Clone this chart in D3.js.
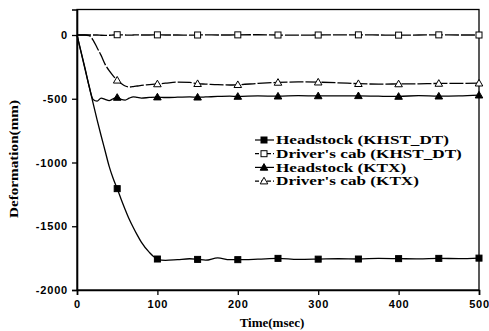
<!DOCTYPE html>
<html><head><meta charset="utf-8">
<script src="https://cdn.jsdelivr.net/npm/d3@7/dist/d3.min.js"></script>
<style>body{margin:0;background:#fff}svg{display:block}</style>
</head><body>
<svg id="c" width="489" height="331"></svg>
<script>
const time = [0,5,10,15,20,25,30,35,40,45,50,55,60,65,70,75,80,90,100,110,125,140,150,160,175,190,200,225,250,275,300,325,350,375,400,425,450,475,500];
const headstockKHST = [0,-135,-270,-400,-535,-665,-790,-910,-1030,-1125,-1205,-1290,-1370,-1445,-1510,-1570,-1625,-1705,-1757,-1768,-1762,-1755,-1760,-1766,-1748,-1762,-1762,-1758,-1752,-1760,-1758,-1755,-1757,-1752,-1754,-1756,-1752,-1754,-1750];
const cabKHST = [0,0,0,0,0,0,-2,-3,-2,0,2,1,0,-1,0,1,0,0,1,0,0,-1,0,1,0,0,1,2,0,-1,0,1,1,0,-1,0,1,0,0];
const headstockKTX = [0,-130,-260,-400,-505,-518,-495,-505,-515,-500,-490,-505,-510,-495,-485,-490,-495,-490,-487,-490,-488,-485,-488,-486,-482,-480,-482,-478,-480,-476,-478,-478,-477,-480,-482,-475,-480,-478,-472];
const cabKTX = [0,0,0,-5,-40,-100,-160,-230,-280,-320,-355,-380,-400,-408,-405,-400,-395,-390,-384,-378,-370,-372,-382,-385,-390,-392,-390,-380,-372,-368,-370,-375,-382,-385,-384,-383,-380,-380,-378];
const xTicks = [0,100,200,300,400,500];
const yTicks = [0,-500,-1000,-1500,-2000];
const seriesNames = ["Headstock (KHST_DT)","Driver's cab (KHST_DT)","Headstock (KTX)","Driver's cab (KTX)"];
const markerStep = 50;

const series = [
  {name:seriesNames[0], values:headstockKHST, shape:"square", fill:true, dash:null},
  {name:seriesNames[1], values:cabKHST, shape:"square", fill:false, dash:"4,2"},
  {name:seriesNames[2], values:headstockKTX, shape:"triangle", fill:true, dash:null},
  {name:seriesNames[3], values:cabKTX, shape:"triangle", fill:false, dash:"4,2"}
];

const svg = d3.select("#c");
const x = d3.scaleLinear().domain([0,500]).range([77,479]);
const y = d3.scaleLinear().domain([-2000,200]).range([290,9.5]);

svg.append("rect").attr("x",x(0)).attr("y",y(200)).attr("width",x(500)-x(0)).attr("height",y(-2000)-y(200))
  .attr("fill","none").attr("stroke","#000").attr("stroke-width",1.3);

const tickFont = "'Liberation Sans', Arial, sans-serif";
const gx = svg.append("g").attr("transform",`translate(0,${y(-2000)})`)
  .call(d3.axisBottom(x).tickValues(xTicks).tickSize(5).tickPadding(5).tickFormat(d3.format("d")));
const gy = svg.append("g").attr("transform",`translate(${x(0)},0)`)
  .call(d3.axisLeft(y).tickValues(yTicks).tickSize(5).tickPadding(4).tickFormat(d3.format("d")));
[gx,gy].forEach(g=>{
  g.select(".domain").attr("stroke-width",1.6);
  g.selectAll(".tick line").attr("stroke-width",1.3);
  g.selectAll("text").attr("font-family",tickFont).attr("font-weight","bold").attr("font-size",11)
    .attr("letter-spacing","0.8px").attr("fill","#000");
});
gy.selectAll("text").text(d=>d===0?"0":"-"+Math.abs(d));

function marker(g, shape, fill, cx, cy){
  if(shape==="square"){
    g.append("rect").attr("x",cx-3).attr("y",cy-3).attr("width",6).attr("height",6)
      .attr("fill",fill?"#000":"#fff").attr("stroke","#000").attr("stroke-width",1);
  } else {
    g.append("path").attr("d",`M${cx},${cy-3.8}L${cx+3.8},${cy+2.8}L${cx-3.8},${cy+2.8}Z`)
      .attr("fill",fill?"#000":"#fff").attr("stroke","#000").attr("stroke-width",1);
  }
}

const line = d3.line().x((d,i)=>x(time[i])).y(d=>y(d)).curve(d3.curveMonotoneX);
series.forEach(s=>{
  svg.append("path").attr("d",line(s.values)).attr("fill","none").attr("stroke","#000")
    .attr("stroke-width",1.3).attr("stroke-dasharray",s.dash?"14,2":null);
});
series.forEach(s=>{
  const g = svg.append("g");
  time.forEach((t,i)=>{ if(t>0 && t%markerStep===0) marker(g,s.shape,s.fill,x(t),y(s.values[i])); });
});

const serif = "'Liberation Serif','Times New Roman',serif";
const lg = svg.append("g");
series.forEach((s,i)=>{
  const ly = 140 + i*13.7;
  lg.append("line").attr("x1",255).attr("x2",274).attr("y1",ly).attr("y2",ly)
    .attr("stroke","#000").attr("stroke-width",1.2).attr("stroke-dasharray",s.dash);
  marker(lg,s.shape,s.fill,264,ly);
  lg.append("text").attr("transform",`translate(276,${ly+4.3}) scale(1.32,1)`).text(s.name)
    .attr("font-family",serif).attr("font-weight","bold").attr("font-size",13);
});

svg.append("text").attr("x",272).attr("y",327).attr("text-anchor","middle").text("Time(msec)")
  .attr("font-family",serif).attr("font-weight","bold").attr("font-size",13);
svg.append("text").attr("transform","translate(18,159) rotate(-90) scale(1.17,1)").attr("text-anchor","middle").text("Deformation(mm)")
  .attr("font-family",serif).attr("font-weight","bold").attr("font-size",13);
</script>
</body></html>
